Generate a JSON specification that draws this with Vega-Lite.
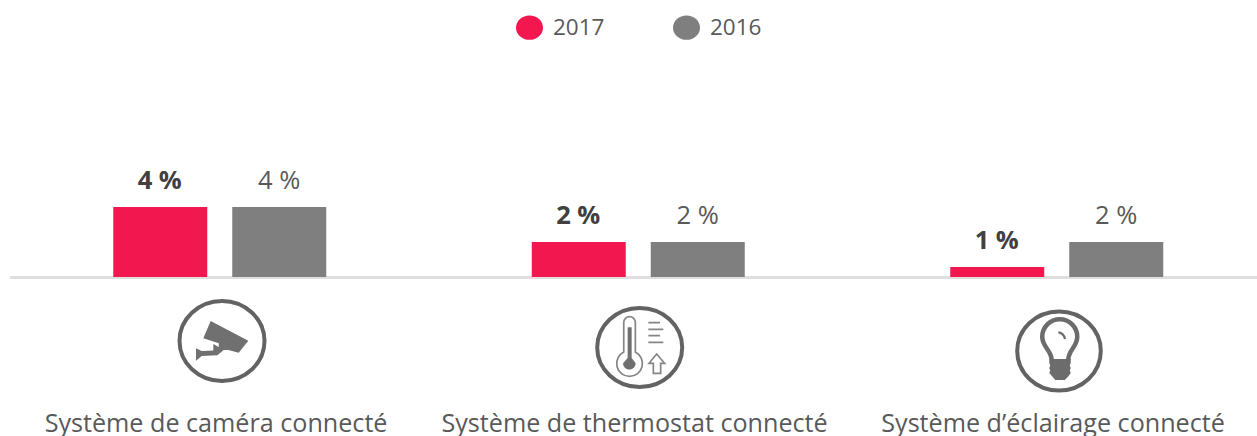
{
"$schema":"https://vega.github.io/schema/vega-lite/v6.json",
"width":1246.5,"height":436,
"autosize":{"type":"none"},
"padding":{"left":10.5,"top":0,"right":0,"bottom":0},
"background":"white",
"view":{"stroke":null},
"config":{"text":{"font":"Open Sans"},"legend":{"labelFont":"Open Sans"}},
"data":{"values":[
{"categorie":"Système de caméra connecté","annee":"2017","valeur":4,"libelle":"4 %"},
{"categorie":"Système de caméra connecté","annee":"2016","valeur":4,"libelle":"4 %"},
{"categorie":"Système de thermostat connecté","annee":"2017","valeur":2,"libelle":"2 %"},
{"categorie":"Système de thermostat connecté","annee":"2016","valeur":2,"libelle":"2 %"},
{"categorie":"Système d’éclairage connecté","annee":"2017","valeur":0.57,"libelle":"1 %"},
{"categorie":"Système d’éclairage connecté","annee":"2016","valeur":2,"libelle":"2 %"}
]},
"encoding":{
"x":{"field":"categorie","type":"nominal","sort":null,"axis":null,"scale":{"domain":["Système de caméra connecté","Système de thermostat connecté","Système d’éclairage connecté"],"range":[0,1255.5],"paddingInner":0,"paddingOuter":0}},
"y":{"type":"quantitative","axis":null,"scale":{"domain":[-9.0857,15.8286],"nice":false,"zero":false}}
},
"layer":[
{"mark":{"type":"rule","color":"#dedede","strokeWidth":2},"encoding":{"x":{"value":0},"x2":{"value":1246.5},"y":{"datum":-0.03}}},
{"mark":{"type":"bar"},
"encoding":{
"xOffset":{"field":"annee","type":"nominal","sort":null,"scale":{"domain":["2017","2016"],"range":[0,418.5],"paddingInner":0.21,"paddingOuter":0.8635}},
"y":{"field":"valeur","type":"quantitative"},
"y2":{"datum":0},
"color":{"field":"annee","type":"nominal","sort":null,"scale":{"domain":["2017","2016"],"range":["#f2184f","#7f7f7f"]},
"legend":{"title":null,"orient":"none","legendX":505.5,"legendY":14,"direction":"horizontal","columns":2,"padding":0,"symbolType":"M-1,0A1,0.9 0 1 1 1,0A1,0.9 0 1 1 -1,0Z","symbolSize":729,"symbolStrokeWidth":0,"symbolOpacity":1,"labelFontSize":22.5,"labelColor":"#595959","labelOffset":10,"columnPadding":68}}
}},
{"transform":[{"filter":"datum.annee==='2017'"}],"mark":{"type":"text","fontSize":25.5,"fontWeight":"bold","color":"#404040","baseline":"middle","dy":-26,"dx":-0.5},
"encoding":{"xOffset":{"field":"annee","type":"nominal","sort":null},"y":{"field":"valeur","type":"quantitative"},"text":{"field":"libelle"}}},
{"transform":[{"filter":"datum.annee==='2016'"}],"mark":{"type":"text","fontSize":25.5,"color":"#595959","baseline":"middle","dy":-26},
"encoding":{"xOffset":{"field":"annee","type":"nominal","sort":null},"y":{"field":"valeur","type":"quantitative"},"text":{"field":"libelle"}}},
{"transform":[{"filter":"datum.annee==='2017'"}],"mark":{"type":"text","fontSize":25.15,"color":"#595959","baseline":"middle","dx":-3.7},
"encoding":{"y":{"datum":-8.4},"text":{"field":"categorie"}}},
{"transform":[{"filter":"datum.categorie==='Système de caméra connecté' && datum.annee==='2017'"}],
"mark":{"type":"point","size":4,"opacity":1,"filled":false,"stroke":"#636363","strokeWidth":4,"shape":"M-40.25,-6A42.5,40 0 1 1 44.75,-6A42.5,40 0 1 1 -40.25,-6Z"},
"encoding":{"y":{"datum":-4}}},
{"transform":[{"filter":"datum.categorie==='Système de thermostat connecté' && datum.annee==='2017'"}],
"mark":{"type":"point","size":4,"opacity":1,"filled":false,"stroke":"#636363","strokeWidth":4,"shape":"M-41.05,0.5A42.5,39.5 0 1 1 43.95,0.5A42.5,39.5 0 1 1 -41.05,0.5Z"},
"encoding":{"y":{"datum":-4}}},
{"transform":[{"filter":"datum.categorie==='Système d’éclairage connecté' && datum.annee==='2017'"}],
"mark":{"type":"point","size":4,"opacity":1,"filled":false,"stroke":"#636363","strokeWidth":4,"shape":"M-39.55,4A41.8,39.5 0 1 1 44.05,4A41.8,39.5 0 1 1 -39.55,4Z"},
"encoding":{"y":{"datum":-4}}},
{"transform":[{"filter":"datum.categorie==='Système de caméra connecté' && datum.annee==='2017'"}],
"mark":{"type":"point","size":4,"opacity":1,"filled":true,"fill":"#707070","strokeWidth":0,"shape":"M-9.08,-26L28.58,-6.33L18.92,5.67L8.58,3L3,3L-1,0L-1,-3.67L-16.42,-8.67ZM-23.75,1.33L-18.08,4L-6.42,3.5L-6.42,-3L4,3L-2.42,8.33L-18.08,9L-23.75,13.67Z"},
"encoding":{"y":{"datum":-4}}},
{"transform":[{"filter":"datum.categorie==='Système de thermostat connecté' && datum.annee==='2017'"}],
"mark":{"type":"point","size":4,"opacity":1,"filled":true,"fill":"#707070","strokeWidth":0,"shape":"M-10.6,-19.7L-6.6,-19.7L-6.6,11L-2.6,16.3A6.3,6.3 0 1 1 -15.2,16.3L-10.6,11Z"},
"encoding":{"y":{"datum":-4}}},
{"transform":[{"filter":"datum.categorie==='Système de thermostat connecté' && datum.annee==='2017'"}],
"mark":{"type":"point","size":4,"opacity":1,"filled":false,"stroke":"#858585","strokeWidth":1.7,"shape":"M-14.5,5V-24.5A5.8,5.8 0 0 1 -2.9,-24.5V5A12.9,12.9 0 1 1 -14.5,5ZM10.1,-24.3H21.8M10.1,-17.7H25.1M10.1,-11.3H21.8M10.1,-4.7H25.1M18.4,7L10.75,16.3H15.1V26.3H22.4V16.3H26.4Z"},
"encoding":{"y":{"datum":-4}}},
{"transform":[{"filter":"datum.categorie==='Système d’éclairage connecté' && datum.annee==='2017'"}],
"mark":{"type":"point","size":4,"opacity":1,"filled":true,"fill":"#6c6c6c","strokeWidth":0,"shape":"M-7.5,12L14,12L14,16L13,18.5L14,21L13,23.5L14,26L11,30L8,33L-1.5,33L-4,30L-7.5,26L-6.5,23.5L-7.5,21L-6.5,18.5L-7.5,16Z"},
"encoding":{"y":{"datum":-4}}},
{"transform":[{"filter":"datum.categorie==='Système d’éclairage connecté' && datum.annee==='2017'"}],
"mark":{"type":"point","size":4,"opacity":1,"filled":false,"stroke":"#6c6c6c","strokeWidth":4.5,"shape":"M-5,13C-5.5,3 -14.5,0 -14.5,-10.3A17.5,17.5 0 1 1 20.5,-10.3C20.5,0 11.5,3 11.5,13"},
"encoding":{"y":{"datum":-4}}},
{"transform":[{"filter":"datum.categorie==='Système d’éclairage connecté' && datum.annee==='2017'"}],
"mark":{"type":"point","size":4,"opacity":1,"filled":false,"stroke":"#6c6c6c","strokeWidth":2.2,"shape":"M1.6,-14.7Q7,-14 8.3,-8"},
"encoding":{"y":{"datum":-4}}}
]
}
